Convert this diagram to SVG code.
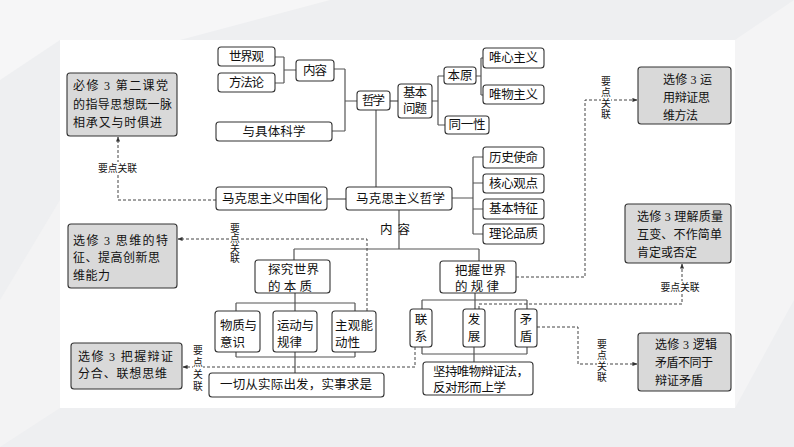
<svg xmlns="http://www.w3.org/2000/svg" width="794" height="447" viewBox="0 0 794 447">
<style>
text{font-family:'Liberation Serif','Noto Sans CJK SC',serif;fill:#111;font-size:12.5px;dominant-baseline:central}
.c{text-anchor:middle}
.g text{font-size:12px}
.lbl{font-size:9.8px;text-anchor:middle}
.bg{fill:#fff}
.n rect{fill:#fff;stroke:#333;stroke-width:1.1}
.g rect{fill:#d9d9d9;stroke:#333;stroke-width:1.1}
.ln{fill:none;stroke:#555;stroke-width:1.2}
.ds{fill:none;stroke:#444;stroke-width:1;stroke-dasharray:3 2}
</style>
<defs>
<marker id="ar" viewBox="0 0 6 6" refX="5.5" refY="3" markerWidth="5" markerHeight="5" orient="auto" markerUnits="userSpaceOnUse"><path d="M0,0.5 L6,3 L0,5.5 Z" fill="#333"/></marker>
</defs>
<rect x="0" y="0" width="794" height="447" fill="#eeeff1"/>
<polygon points="0,0 330,0 180,40 60,40 0,80" fill="#f6f6f7"/>
<polygon points="735,40 794,0 794,300 735,408" fill="#f4f4f5"/>
<polygon points="0,300 60,200 60,408 0,447" fill="#f3f3f4"/>
<rect x="60" y="40" width="675" height="368" fill="#fff"/>

<g id="connectors">
<path class="ln" d="M275,57H284M275,83H284M284,57V83M284,70H296"/>
<path class="ln" d="M334,69H345M345,69V131M332,131H345M345,101H357"/>
<path class="ln" d="M390,101H398"/>
<path class="ln" d="M432,101H438M438,76V125M438,76H444M438,125H445"/>
<path class="ln" d="M476,76H481M481,58V95M481,58H483M481,95H483"/>
<path class="ln" d="M376,110V187"/>
<path class="ln" d="M327,199H346"/>
<path class="ln" d="M452,198H473M473,157V234M473,157H483M473,183H483M473,209H483M473,234H483"/>
<path class="ln" d="M399,210V249M294,249H479M294,249V260M479,249V261"/>
<path class="ln" d="M295,293V311M236,303H355M236,303V311M355,303V311"/>
<path class="ln" d="M236,357H355M236,352V357M355,352V357M295,352V373"/>
<path class="ln" d="M475,293V309M422,300H527M422,300V309M527,300V309"/>
<path class="ln" d="M422,354H527M422,347V354M527,347V354M474,347V362"/>
<path class="ds" d="M216,200H118V137" marker-end="url(#ar)"/>
<path class="ds" d="M516,277H585V100H637" marker-end="url(#ar)"/>
<path class="ds" d="M367,311V239H178" marker-end="url(#ar)"/>
<path class="ds" d="M415,347V367H183" marker-end="url(#ar)"/>
<path class="ds" d="M479,309V304H682V264" marker-end="url(#ar)"/>
<path class="ds" d="M537,327H578V364H637" marker-end="url(#ar)"/>
<rect class="bg" x="96" y="162" width="44" height="12"/>
<text class="lbl" x="117.5" y="168">要点关联</text>
<rect class="bg" x="657" y="281" width="46" height="12"/>
<text class="lbl" x="680" y="287">要点关联</text>
<rect class="bg" x="601" y="76" width="10" height="43"/>
<text class="lbl"><tspan x="606" y="81">要</tspan><tspan x="606" y="92">点</tspan><tspan x="606" y="103">关</tspan><tspan x="606" y="114">联</tspan></text>
<rect class="bg" x="230" y="223" width="10" height="40"/>
<text class="lbl"><tspan x="235" y="227.5">要</tspan><tspan x="235" y="237.5">点</tspan><tspan x="235" y="247.5">关</tspan><tspan x="235" y="257.5">联</tspan></text>
<rect class="bg" x="193" y="345" width="10" height="47"/>
<text class="lbl"><tspan x="198" y="350">要</tspan><tspan x="198" y="362">点</tspan><tspan x="198" y="374">关</tspan><tspan x="198" y="386">联</tspan></text>
<rect class="bg" x="597" y="339" width="10" height="43"/>
<text class="lbl"><tspan x="602" y="344">要</tspan><tspan x="602" y="355">点</tspan><tspan x="602" y="366">关</tspan><tspan x="602" y="377">联</tspan></text>
</g>

<g id="n-shijieguan" class="n"><rect x="218" y="47" width="57" height="19" rx="3"/><text class="c" x="246.5" y="57" textLength="35">世界观</text></g>
<g id="n-fangfalun" class="n"><rect x="218" y="73" width="57" height="19" rx="3"/><text class="c" x="246.5" y="83" textLength="35">方法论</text></g>
<g id="n-neirong" class="n"><rect x="296" y="60" width="38" height="21" rx="3"/><text class="c" x="315" y="70.5" textLength="24">内容</text></g>
<g id="n-zhexue" class="n"><rect x="357" y="91" width="33" height="19" rx="3"/><text class="c" x="373.5" y="101" textLength="23">哲学</text></g>
<g id="n-juti" class="n"><rect x="216" y="122" width="116" height="19" rx="3"/><text class="c" x="274" y="132" textLength="63">与具体科学</text></g>
<g id="n-jiben" class="n"><rect x="398" y="84" width="34" height="34" rx="3"/><text class="c" x="415" y="92.5" textLength="24">基本</text><text class="c" x="415" y="109" textLength="24">问题</text></g>
<g id="n-benyuan" class="n"><rect x="444" y="67" width="32" height="17" rx="3"/><text class="c" x="460" y="75.5" textLength="25">本原</text></g>
<g id="n-tongyi" class="n"><rect x="445" y="116" width="44" height="18" rx="3"/><text class="c" x="467" y="125" textLength="37">同一性</text></g>
<g id="n-weixin" class="n"><rect x="483" y="48" width="61" height="20" rx="3"/><text class="c" x="513.5" y="58" textLength="49">唯心主义</text></g>
<g id="n-weiwu" class="n"><rect x="483" y="85" width="61" height="19" rx="3"/><text class="c" x="513.5" y="94.5" textLength="49">唯物主义</text></g>
<g id="n-lishi" class="n"><rect x="483" y="147" width="61" height="21" rx="3"/><text class="c" x="513.5" y="157.5" textLength="49">历史使命</text></g>
<g id="n-hexin" class="n"><rect x="483" y="174" width="61" height="19" rx="3"/><text class="c" x="513.5" y="183.5" textLength="49">核心观点</text></g>
<g id="n-tezheng" class="n"><rect x="483" y="199" width="61" height="20" rx="3"/><text class="c" x="513.5" y="209" textLength="49">基本特征</text></g>
<g id="n-pinzhi" class="n"><rect x="483" y="224" width="61" height="20" rx="3"/><text class="c" x="513.5" y="234" textLength="49">理论品质</text></g>
<g id="n-zhongguohua" class="n"><rect x="216" y="187" width="111" height="23" rx="3"/><text class="c" x="272" y="198.5" textLength="100">马克思主义中国化</text></g>
<g id="n-makesi" class="n"><rect x="346" y="187" width="106" height="23" rx="3"/><text class="c" x="400.5" y="198.5" textLength="89">马克思主义哲学</text></g>
<text x="395" y="230" class="c" textLength="30">内  容</text>
<g id="n-tanjiu" class="n"><rect x="255" y="260" width="75" height="33" rx="3"/><text x="268" y="270" textLength="51">探究世界</text><text x="268" y="286.5" textLength="44">的本质</text></g>
<g id="n-bawo" class="n"><rect x="440" y="261" width="76" height="32" rx="3"/><text x="455" y="270.5" textLength="51">把握世界</text><text x="455" y="286.5" textLength="44">的规律</text></g>
<g id="n-wuzhi" class="n"><rect x="215" y="311" width="45" height="41" rx="3"/><text x="220" y="326" textLength="37">物质与</text><text x="220" y="343" textLength="25">意识</text></g>
<g id="n-yundong" class="n"><rect x="273" y="311" width="44" height="41" rx="3"/><text x="277" y="326" textLength="37">运动与</text><text x="277" y="343" textLength="25">规律</text></g>
<g id="n-zhuguan" class="n"><rect x="332" y="311" width="44" height="41" rx="3"/><text x="335" y="326" textLength="38">主观能</text><text x="335" y="343" textLength="25">动性</text></g>
<g id="n-lianxi" class="n"><rect x="410" y="309" width="22" height="38" rx="3"/><text class="c" x="421" y="320">联</text><text class="c" x="421" y="337">系</text></g>
<g id="n-fazhan" class="n"><rect x="463" y="309" width="22" height="38" rx="3"/><text class="c" x="474" y="320">发</text><text class="c" x="474" y="337">展</text></g>
<g id="n-maodun" class="n"><rect x="515" y="309" width="22" height="38" rx="3"/><text class="c" x="526" y="320">矛</text><text class="c" x="526" y="337">盾</text></g>
<g id="n-yiqie" class="n"><rect x="209" y="373" width="175" height="24" rx="3"/><text class="c" x="296" y="385" textLength="152">一切从实际出发，实事求是</text></g>
<g id="n-jianchi" class="n"><rect x="423" y="362" width="110" height="33" rx="3"/><text x="433" y="372" textLength="96">坚持唯物辩证法，</text><text x="433" y="387.5" textLength="73">反对形而上学</text></g>

<g id="g-bixiu" class="g"><rect x="67" y="73" width="110" height="63" rx="3"/><text x="73" y="86" textLength="95">必修 3  第二课党</text><text x="73" y="105" textLength="99">的指导思想既一脉</text><text x="73" y="123" textLength="89">相承又与时俱进</text></g>
<g id="g-siwei" class="g"><rect x="68" y="224" width="109" height="64" rx="3"/><text x="73" y="241" textLength="95">选修 3  思维的特</text><text x="73" y="258" textLength="87">征、提高创新思</text><text x="73" y="276" textLength="37">维能力</text></g>
<g id="g-bianzheng" class="g"><rect x="71" y="343" width="111" height="46" rx="3"/><text x="78" y="357" textLength="95">选修 3  把握辩证</text><text x="78" y="374" textLength="89">分合、联想思维</text></g>
<g id="g-yunyong" class="g"><rect x="638" y="67" width="93" height="57" rx="3"/><text x="663" y="80" textLength="49">选修 3 运</text><text x="663" y="98" textLength="47">用辩证思</text><text x="663" y="116" textLength="35">维方法</text></g>
<g id="g-zhiliang" class="g"><rect x="625" y="204" width="106" height="59" rx="3"/><text x="637" y="217" textLength="86">选修 3 理解质量</text><text x="637" y="235" textLength="85">互变、不作简单</text><text x="637" y="253" textLength="60">肯定或否定</text></g>
<g id="g-luoji" class="g"><rect x="638" y="333" width="93" height="58" rx="3"/><text x="655" y="345" textLength="62">选修 3 逻辑</text><text x="655" y="363" textLength="58">矛盾不同于</text><text x="655" y="381" textLength="48">辩证矛盾</text></g>
</svg>
